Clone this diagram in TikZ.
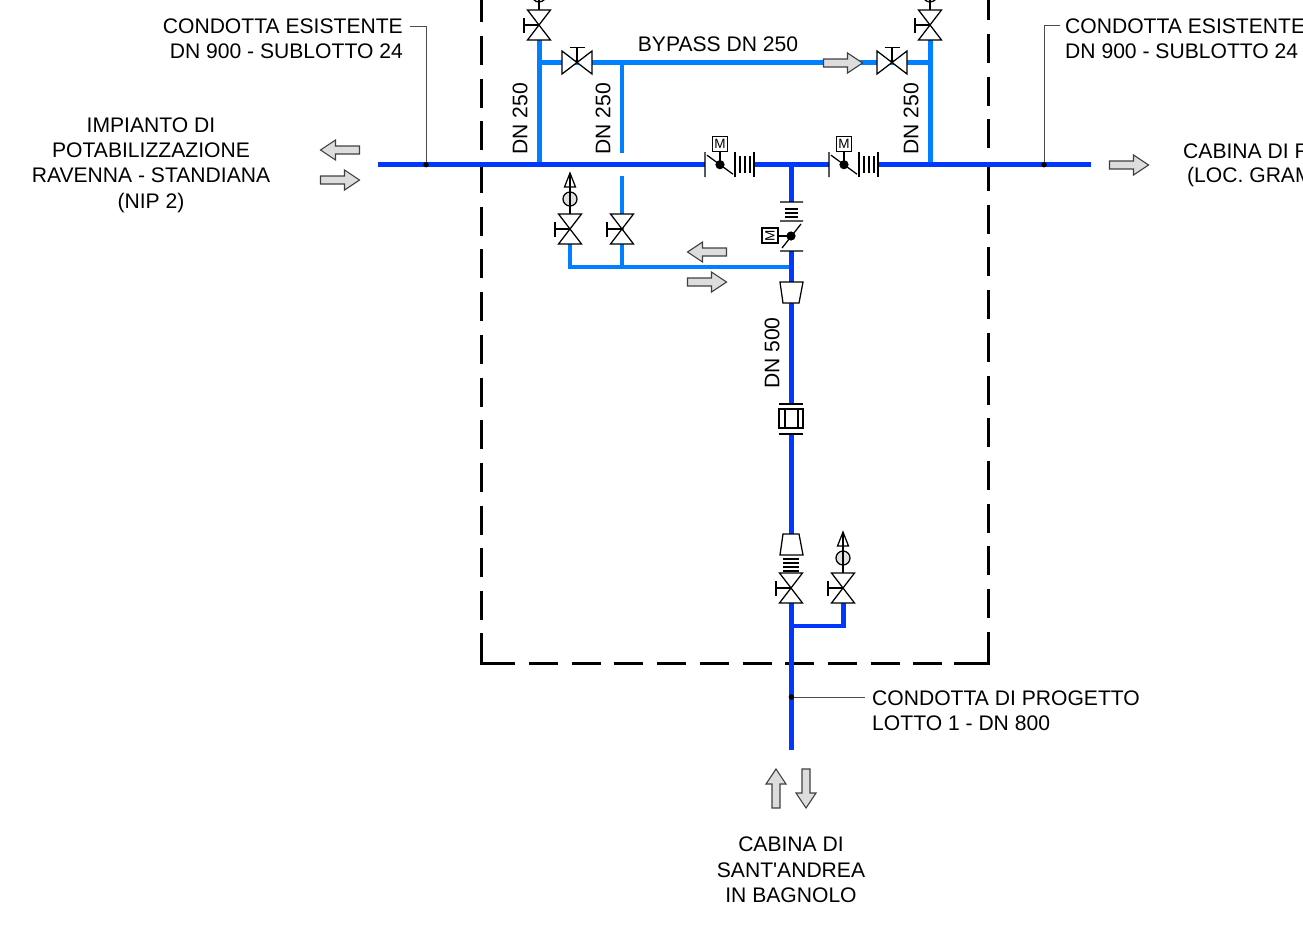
\documentclass[tikz,border=0pt]{standalone}
\usepackage{fontspec}
\setmainfont{Liberation Sans}
\definecolor{pipedark}{HTML}{0038FF}
\definecolor{pipelight}{HTML}{0080FF}
\definecolor{arrowgray}{HTML}{DDDDDD}
\tikzset{
  pipemain/.style={line width=4.8pt,pipedark},
  pipebranch/.style={line width=4.8pt,pipelight},
  symb/.style={line width=1.25pt,black},
  leader/.style={line width=1pt,black!70},
  tapdot/.style={circle,fill=black,inner sep=0pt,minimum size=5.5pt},
  boundary/.style={line width=3pt,black},
  boundarydash/.style={boundary,dash pattern=on 29pt off 13.7pt},
  txt/.style={inner sep=0pt,align=center,font=\fontsize{21.1}{25.4}\selectfont},
  txtl/.style={txt,anchor=west,align=left},
  txtr/.style={txt,anchor=east,align=right},
  flowarrow/.style={draw=black!75,line width=1.1pt,fill=arrowgray},
  valvev/.pic={
    \draw[symb,fill=white] (-11.5,-15) -- (11.5,-15) -- (-11.5,15) -- (11.5,15) -- cycle;
    \draw[symb] (0,0) -- (-15,0) (-15,-7.5) -- (-15,7.5);
  },
  valveh/.pic={
    \draw[symb,fill=white] (-15,-11.5) -- (-15,11.5) -- (15,-11.5) -- (15,11.5) -- cycle;
    \draw[symb] (0,0) -- (0,-15) (-7.5,-15) -- (7.5,-15);
  },
  airvent/.pic={
    \draw[symb,fill=black!12] (0,-30) circle (7);
    \draw[symb] (0,0) -- (0,-56);
    \draw[symb] (-5.5,-42) -- (0,-56) -- (5.5,-42) -- cycle;
  },
  motorh/.pic={
    \draw[symb] (-15,-12.5) -- (-15,12.5) (-13,-9.5) -- (13,9.5);
    \fill (0,0) circle (4.6);
    \draw[symb] (0,0) -- (0,-13.5);
    \draw[symb,fill=white] (-7.5,-28.5) rectangle (7.5,-13.5);
    \node[inner sep=0pt,font=\fontsize{13.5}{13.5}\selectfont] at (0,-21) {M};
    \draw[symb] (15,-12.5) -- (15,12.5) (34,-12.5) -- (34,12.5);
    \draw[symb] (20,-8.5) -- (20,8.5) (25,-8.5) -- (25,8.5) (30,-8.5) -- (30,8.5);
  },
  arrowright/.pic={
    \draw[flowarrow] (-19.5,-4) -- (4.5,-4) -- (4.5,-10) -- (19.5,0) -- (4.5,10) -- (4.5,4) -- (-19.5,4) -- cycle;
  }
}
\begin{document}
\begin{tikzpicture}[x=1pt,y=-1pt]
  \useasboundingbox (0,0) rectangle (1303,926);
  \clip (0,0) rectangle (1303,926);
  % boundary
  \draw[boundarydash] (481.7,620) -- (481.7,-5);
  \draw[boundarydash] (988,618) -- (988,-5);
  \draw[boundarydash] (529,663) -- (943,663);
  \draw[boundary] (481.7,633) -- (481.7,663) -- (515,663);
  \draw[boundary] (954,663) -- (988,663) -- (988,632);
  % junctions
  \coordinate (west) at (378,164.7);
  \coordinate (east) at (1091,164.7);
  \coordinate (tee) at (791.4,164.7);
  \coordinate (south) at (791.4,750);
  \coordinate (bl) at (539.3,164.7);
  \coordinate (br) at (930.3,164.7);
  \coordinate (tl) at (539.3,62.5);
  \coordinate (tr) at (930.3,62.5);
  \coordinate (bm) at (622,62.5);
  \coordinate (lw) at (570,267);
  \coordinate (lm) at (622,267);
  \coordinate (le) at (791.4,267);
  \coordinate (dw) at (843.5,626);
  \coordinate (de) at (791.4,626);
  \coordinate (tapw) at (426,164.7);
  \coordinate (tape) at (1044,164.7);
  \coordinate (taps) at (791.4,697);
  % pipes
  \draw[pipebranch] (539.3,40) -- (bl);
  \draw[pipebranch] (930.3,40) -- (br);
  \draw[pipebranch] (tl) -- (tr);
  \draw[pipebranch] (bm) -- (622,153);
  \draw[pipebranch] (622,176) -- (lm);
  \draw[pipebranch] (570,244) -- (lw) -- (le);
  \draw[pipemain] (west) -- (705,164.7);
  \draw[pipemain] (755,164.7) -- (829,164.7);
  \draw[pipemain] (879,164.7) -- (east);
  \draw[pipemain] (tee) -- (791.4,202);
  \draw[pipemain] (791.4,251) -- (791.4,282);
  \draw[pipemain] (791.4,303) -- (791.4,404);
  \draw[pipemain] (791.4,434) -- (791.4,534);
  \draw[pipemain] (791.4,603) -- (south);
  \draw[pipemain] (843.5,603) -- (dw) -- (de);
  % valves
  \pic at (539,25) {airvent};
  \pic at (930,25) {airvent};
  \pic at (539,25) {valvev};
  \pic at (930,25) {valvev};
  \pic at (577,62.5) {valveh};
  \pic at (892,62.5) {valveh};
  \pic at (570,229) {airvent};
  \pic at (570,229) {valvev};
  \pic at (622,229) {valvev};
  \pic at (791,588) {valvev};
  \pic at (843,588) {airvent};
  \pic at (843,588) {valvev};
  \pic at (720,164.7) {motorh};
  \pic at (844,164.7) {motorh};
  % motor valve on the branch
  \draw[symb] (780,251) -- (803,251) (782,248) -- (801,224) (780,221) -- (803,221) (780,202) -- (803,202);
  \draw[symb] (785,209) -- (798,209) (785,213) -- (798,213) (785,217) -- (798,217);
  \fill (791,236) circle (4.6);
  \draw[symb] (791,236) -- (778,236);
  \draw[symb,fill=white] (762,228) rectangle (778,243);
  \node[inner sep=0pt,rotate=90,font=\fontsize{13.5}{13.5}\selectfont] (mbox) at (770,235.5) {M};
  % reducers
  \draw[symb,fill=white] (780,282) -- (803,282) -- (799,303) -- (783,303) -- cycle;
  \draw[symb,fill=white] (783,534) -- (799,534) -- (803,555) -- (780,555) -- cycle;
  \draw[symb] (783,559) -- (799,559) (783,563) -- (799,563) (783,567) -- (799,567) (783,571) -- (799,571);
  % flow meter
  \draw[symb] (779,404) -- (803,404) (779,434) -- (803,434);
  \draw[symb,fill=white] (779,409) rectangle (803,428);
  \draw[symb] (785,409) -- (785,428) (798,409) -- (798,428);
  % flow arrows
  \pic at (340,180) {arrowright};
  \pic[xscale=-1] at (340,150) {arrowright};
  \pic at (1129,165) {arrowright};
  \pic at (843,63) {arrowright};
  \pic at (707,282) {arrowright};
  \pic[xscale=-1] at (707,252) {arrowright};
  \pic[rotate=-90] at (806,788.5) {arrowright};
  \pic[rotate=90] at (776,788.5) {arrowright};
  % leaders
  \draw[leader] (410,26) -| (tapw);
  \draw[leader] (1060,25) -| (tape);
  \draw[leader] (865,697) -- (taps);
  \node[tapdot] (dotw) at (tapw) {};
  \node[tapdot] (dote) at (tape) {};
  \node[tapdot] (dots) at (taps) {};
  % labels
  \node[txtr] (condw) at (403,39) {CONDOTTA ESISTENTE\\DN 900 - SUBLOTTO 24};
  \node[txtl] (conde) at (1065,39) {CONDOTTA ESISTENTE\\DN 900 - SUBLOTTO 24};
  \node[txt] (imp) at (151,165) {IMPIANTO DI\\POTABILIZZAZIONE\\RAVENNA - STANDIANA\\(NIP 2)};
  \node[txtl] (cab1) at (1183,151) {CABINA DI R};
  \node[txtl] (cab2) at (1187,177) {(LOC. GRAM};
  \node[txt] (byp) at (718,44) {BYPASS DN 250};
  \node[txt,rotate=90] (dn1) at (520,119) {DN 250};
  \node[txt,rotate=90] (dn2) at (603,119) {DN 250};
  \node[txt,rotate=90] (dn3) at (911,119) {DN 250};
  \node[txt,rotate=90] (dn4) at (772,353) {DN 500};
  \node[txtl] (prog) at (872,710.5) {CONDOTTA DI PROGETTO\\LOTTO 1 - DN 800};
  \node[txt] (sant) at (791,870) {CABINA DI\\SANT\textquotesingle ANDREA\\IN BAGNOLO};
\end{tikzpicture}
\end{document}
